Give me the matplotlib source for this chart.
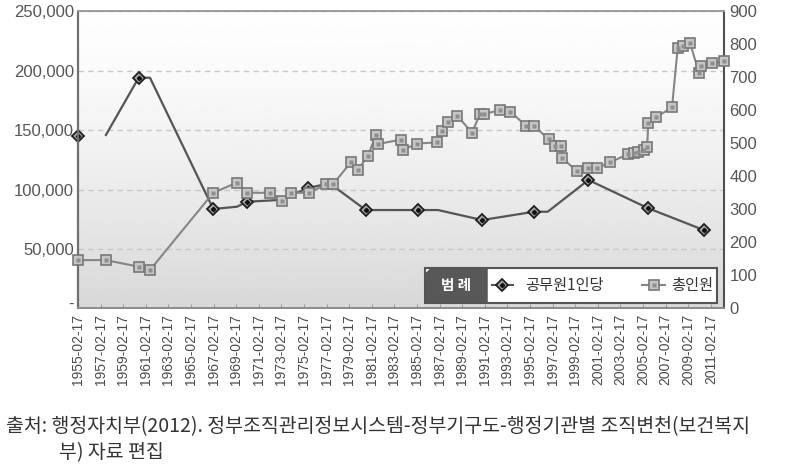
import numpy as np
import matplotlib.pyplot as plt
from matplotlib.patches import Polygon, Rectangle
from matplotlib.lines import Line2D
from matplotlib.transforms import ScaledTranslation

plt.rcParams['font.family'] = ['Liberation Sans', 'Noto Sans CJK KR', 'DejaVu Sans']
KR = ['Noto Sans CJK KR', 'DejaVu Sans']

# 공무원1인당 (left axis) - dates as fractional years
per_staff_years = [1955.1, 1957.6, 1960.5, 1961.5, 1967.1, 1969.2, 1970.1, 1973.0, 1975.5, 1977.4,
                   1980.6, 1985.2, 1987.0, 1990.9, 1995.5, 1996.7, 2000.3, 2005.6, 2010.5]
per_staff_vals = [145000, 145900, 194100, 194100, 83600, 85500, 89700, 91200, 101300, 105200,
                  82700, 82700, 82700, 74300, 81300, 81300, 108000, 84200, 65900]
per_staff_marked = [1, 0, 1, 0, 1, 0, 1, 0, 1, 0, 1, 1, 0, 1, 1, 0, 1, 1, 1]

# 총인원 (right axis)
total_years = [1955.1, 1957.6, 1960.5, 1961.5, 1967.1, 1969.2, 1970.1, 1972.1, 1973.2, 1974.0,
               1975.6, 1977.1, 1977.7, 1979.3, 1979.9, 1980.8, 1981.5, 1981.7, 1983.7, 1983.9,
               1985.1, 1986.9, 1987.3, 1987.9, 1988.7, 1990.0, 1990.7, 1991.1, 1992.5, 1993.4,
               1994.8, 1995.5, 1996.8, 1997.3, 1997.9, 1998.0, 1999.3, 2000.3, 2001.1, 2002.2,
               2003.8, 2004.3, 2004.7, 2005.2, 2005.5, 2005.6, 2006.3, 2007.7, 2008.2, 2008.7,
               2009.3, 2010.1, 2010.3, 2011.2, 2012.3]
total_vals = [146, 146, 126, 116, 350, 381, 350, 350, 325, 350,
              350, 376, 376, 443, 419, 463, 525, 498, 511, 480,
              499, 503, 538, 565, 583, 532, 589, 589, 601, 596,
              552, 552, 512, 492, 492, 454, 416, 426, 426, 442,
              467, 470, 474, 480, 488, 562, 579, 609, 788, 796,
              803, 712, 733, 742, 749]

tick_years = list(range(1955, 2012, 2))
tick_labels = [f'{y}-02-17' for y in tick_years]
left_ticks = [0, 50000, 100000, 150000, 200000, 250000]
left_labels = ['-', '50,000', '100,000', '150,000', '200,000', '250,000']
right_ticks = [0, 100, 200, 300, 400, 500, 600, 700, 800, 900]

W, H = 806, 471
fig = plt.figure(figsize=(W / 100, H / 100), dpi=100)
rect = [78 / W, 1 - 308.3 / H, 646 / W, 297 / H]

# gradient background of the plot area
bg = fig.add_axes(rect, zorder=0)
t = np.linspace(0, 1, 256).reshape(-1, 1)
grad = 0.995 - 0.15 * t ** 1.4
bg.imshow(grad, aspect='auto', cmap='gray', vmin=0, vmax=1, extent=(0, 1, 0, 1))
bg.axis('off')

ax = fig.add_axes(rect, zorder=1)
ax.patch.set_visible(False)
ax2 = ax.twinx()
ax2.set_zorder(2)
ax2.patch.set_visible(False)

# per-staff line (first observation is not joined to the rest)
px = np.array(per_staff_years)
py = np.array(per_staff_vals)
pm = np.array(per_staff_marked, dtype=bool)
ax.plot(px[1:], py[1:], color='#555', lw=1.6, zorder=3)
ax.plot(px[pm], py[pm], ls='none', marker='D', ms=6.2, mfc='#a9a9a9', mec='#1e1e1e',
        mew=1.3, zorder=4, clip_on=False)
ax.plot(px[pm], py[pm], ls='none', marker='D', ms=2.2, mfc='#111', mec='#111', zorder=5,
        clip_on=False)

# total staff line
ax2.plot(total_years, total_vals, color='#858585', lw=1.5, marker='s', ms=7.5, mfc='#c6c6c6',
         mec='#777', mew=1.2, zorder=3, clip_on=False)
ax2.plot(total_years, total_vals, ls='none', marker='s', ms=3, mfc='#8e8e8e', mec='none',
         zorder=4, clip_on=False)

ax.set_xlim(1955.13, 2012.3)
ax.set_ylim(0, 250000)
ax2.set_ylim(0, 900)

ax.set_xticks([y + 0.13 for y in tick_years])
ax.set_xticklabels(tick_labels, rotation=90, fontsize=10, color='#4a4a4a')
ax.tick_params(axis='x', direction='in', length=3, color='#999', pad=4)
ax.set_yticks(left_ticks)
ax.set_yticklabels(left_labels, fontsize=12, color='#555')
ax.tick_params(axis='y', length=0, pad=3)
ax2.set_yticks(right_ticks)
ax2.set_yticklabels([str(v) for v in right_ticks], fontsize=12, color='#555')
ax2.tick_params(axis='y', length=0, pad=4)

# the "-" zero label sits a little above the axis line
zero_lab = ax.get_yticklabels()[0]
zero_lab.set_transform(zero_lab.get_transform() + ScaledTranslation(0, 4 / 72, fig.dpi_scale_trans))

ax.grid(axis='y', color='#c8c8c8', ls=(0, (4, 3)), lw=1)
ax.set_axisbelow(True)

for s in ['top', 'bottom', 'left', 'right']:
    ax.spines[s].set_visible(False)
for s in ['top', 'bottom', 'left']:
    ax2.spines[s].set_visible(True)
ax2.spines['left'].set_color('#707070')
ax2.spines['left'].set_linewidth(1.6)
ax2.spines['top'].set_color('#9a9a9a')
ax2.spines['top'].set_linewidth(1.4)
ax2.spines['bottom'].set_color('#8a8a8a')
ax2.spines['bottom'].set_linewidth(1.4)
ax2.spines['right'].set_color('#505050')
ax2.spines['right'].set_linewidth(1.5)

# legend box
tr = ax2.transAxes
x0, x1, xm = 0.537, 0.989, 0.633
y0, y1 = 0.018, 0.136
ax2.add_patch(Rectangle((x0, y0), x1 - x0, y1 - y0, transform=tr, facecolor='white',
                        edgecolor='#555', lw=1.5, zorder=10))
cx, cy = 7 / 646, 7 / 297
ax2.add_patch(Polygon([(x0, y0), (x0, y1 - cy), (x0 + cx, y1), (xm, y1), (xm, y0)],
                      closed=True, transform=tr, facecolor='#585858', edgecolor='#555',
                      lw=1.2, zorder=11))
ym = (y0 + y1) / 2
ax2.text((x0 + xm) / 2, ym, '범 례', transform=tr, ha='center', va='center', color='white',
         fontsize=10.5, fontweight='bold', family=KR, zorder=12)
ax2.add_line(Line2D([0.641, 0.673], [ym, ym], transform=tr, color='#555', lw=1.5, zorder=12))
ax2.add_line(Line2D([0.657], [ym], transform=tr, marker='D', ms=6.2, mfc='#a9a9a9',
                    mec='#1e1e1e', mew=1.3, zorder=13))
ax2.add_line(Line2D([0.657], [ym], transform=tr, marker='D', ms=2.2, mfc='#111', mec='#111',
                    zorder=14))
ax2.text(0.692, ym, '공무원1인당', transform=tr, ha='left', va='center', color='#333',
         fontsize=11, family=KR, zorder=12)
ax2.add_line(Line2D([0.873, 0.909], [ym, ym], transform=tr, color='#858585', lw=1.5, zorder=12))
ax2.add_line(Line2D([0.891], [ym], transform=tr, marker='s', ms=7.5, mfc='#c6c6c6', mec='#777',
                    mew=1.2, zorder=13))
ax2.add_line(Line2D([0.891], [ym], transform=tr, marker='s', ms=3, mfc='#8e8e8e', mec='none',
                    zorder=14))
ax2.text(0.918, ym, '총인원', transform=tr, ha='left', va='center', color='#333',
         fontsize=11, family=KR, zorder=12)

# source note
fig.text(6 / W, 1 - 426.7 / H,
         '출처: 행정자치부(2012). 정부조직관리정보시스템-정부기구도-행정기관별 조직변천(보건복지',
         ha='left', va='center', fontsize=14, color='#333', family=KR)
fig.text(59 / W, 1 - 453 / H, '부) 자료 편집', ha='left', va='center', fontsize=14,
         color='#333', family=KR)

fig.savefig('out.png', dpi=100, facecolor='white')
